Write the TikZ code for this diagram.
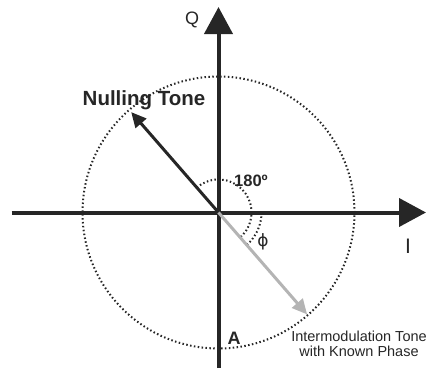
\documentclass[tikz,border=0pt]{standalone}
\usepackage{fontspec}
\setmainfont{Liberation Sans}
\newfontfamily\dejavu{DejaVu Sans}
\usetikzlibrary{arrows.meta}
\definecolor{axisc}{HTML}{262626}
\definecolor{grayc}{HTML}{B4B4B4}
\begin{document}
\begin{tikzpicture}[x=1pt,y=1pt,
  axis/.style={line width=4pt,draw=axisc,-{Triangle[length=27pt,width=28pt]}},
  vec/.style={line width=3pt,-{Triangle[length=15pt,width=14pt]}},
  dotc/.style={line width=2pt,dash pattern=on 1.5pt off 2.4pt},
  lbl/.style={inner sep=0pt,text=axisc}]
\useasboundingbox (0,0) rectangle (426,368);
\coordinate (O) at (218.5,155.5);
\coordinate (L) at (11.7,155.5);
\coordinate (R) at (426,155.5);
\coordinate (B) at (218.5,0);
\coordinate (T) at (218.5,361);
\coordinate (N) at (131.2,255.9);
\coordinate (G) at (307.1,53.6);
% dotted circle
\draw[dotc,draw=axisc] (O) circle[radius=136];
% arcs
\draw[dotc,draw=axisc] ([shift={(131:33)}]O) arc[start angle=131,end angle=-49,radius=33];
\draw[dotc,draw=axisc] ([shift={(0:43)}]O) arc[start angle=0,end angle=-49,radius=43];
% axes
\draw[axis] (L) -- (R);
\draw[axis] (B) -- (T);
% vectors
\draw[vec,draw=axisc,fill=axisc] (O) -- (N);
\draw[vec,draw=grayc,fill=grayc] (O) -- (G);
% labels
\node[lbl,font=\fontsize{18}{18}\selectfont] (q) at (192,348) {Q};
\node[lbl,font=\fontsize{21}{21}\selectfont] (i) at (408,122) {I};
\node[lbl,font=\bfseries\fontsize{20.5}{20.5}\selectfont] (nt) at (144,268) {Nulling Tone};
\node[lbl,font=\bfseries\fontsize{16.5}{16.5}\selectfont] (d) at (251,187) {180º};
\node[lbl,font=\dejavu\fontsize{17}{17}\selectfont] (phi) at (263,126) {ϕ};
\node[lbl,font=\bfseries\fontsize{18}{18}\selectfont] (a) at (234,30) {A};
\node[lbl,font=\fontsize{14.5}{15.5}\selectfont,align=center] (im) at (359,24) {Intermodulation Tone\\with Known Phase};
\end{tikzpicture}
\end{document}
